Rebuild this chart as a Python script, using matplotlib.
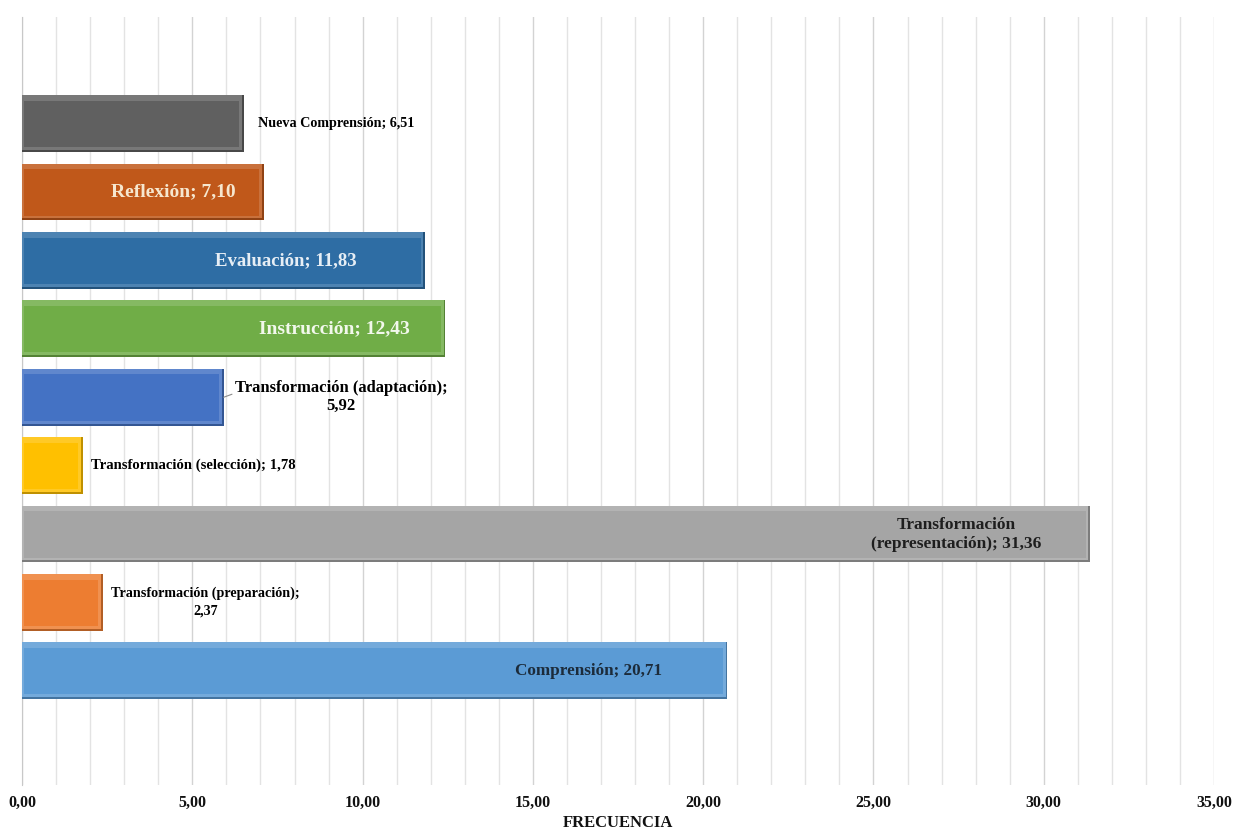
import matplotlib.pyplot as plt
import matplotlib.colors as mcolors
import numpy as np
from matplotlib.ticker import MultipleLocator, FuncFormatter

plt.rcParams['font.family'] = ['Liberation Serif', 'DejaVu Serif']
plt.rcParams['font.weight'] = 'bold'

# bottom to top
categorias = ["Comprensión", "Transformación (preparación)", "Transformación (representación)",
              "Transformación (selección)", "Transformación (adaptación)", "Instrucción",
              "Evaluación", "Reflexión", "Nueva Comprensión"]
frecuencia = [20.71, 2.37, 31.36, 1.78, 5.92, 12.43, 11.83, 7.10, 6.51]
etiquetas = ["Comprensión; 20,71", "Transformación (preparación);\n2,37",
             "Transformación\n(representación); 31,36", "Transformación (selección); 1,78",
             "Transformación (adaptación);\n5,92", "Instrucción; 12,43", "Evaluación; 11,83",
             "Reflexión; 7,10", "Nueva Comprensión; 6,51"]
colores = ["#5B9BD5", "#ED7D31", "#A5A5A5", "#FFC000", "#4472C4", "#70AD47",
           "#2E6DA4", "#C0581A", "#606060"]
# label placement: 'in' = inside near the end, 'out' = right of the bar
modo = ["in", "out", "in", "out", "out", "in", "in", "in", "out"]
pad_pt = [47, 6, 35, 6, 8, 26, 49, 20, 10]
tam = [12.3, 10.2, 12.5, 10.6, 12, 14, 13.5, 14, 10.2]
interlineado = [1.2, 1.45, 1.25, 1.2, 1.15, 1.2, 1.2, 1.2, 1.2]
color_txt = ["#1C2B3A", "black", "#1E1E1E", "black", "black", "#F2F8EC",
             "#E6EEF5", "#F6E7CF", "black"]


def shade(c, f):
    r, g, b = mcolors.to_rgb(c)
    if f < 1:
        return (r * f, g * f, b * f)
    return (r + (1 - r) * (f - 1), g + (1 - g) * (f - 1), b + (1 - b) * (f - 1))


fig = plt.figure(figsize=(12.53, 8.38), dpi=100)
ax = fig.add_axes([0.0176, 0.0632, 0.9513, 0.9165])

y = np.arange(len(categorias))
h = 0.83
frec = np.array(frecuencia)
# bevelled bars: dark frame, soft top rim, face
ax.barh(y, frec, height=h, color=[shade(c, 0.75) for c in colores], zorder=3)
ax.barh(y + 0.015, frec - 0.05, height=h - 0.03,
        color=[shade(c, 1.15) for c in colores], zorder=3)
ax.barh(y - 0.005, frec - 0.2, left=0.07, height=h - 0.15,
        color=colores, zorder=4)

for i, (v, t) in enumerate(zip(frecuencia, etiquetas)):
    kw = dict(textcoords="offset points", va="center", multialignment="center",
              fontsize=tam[i], color=color_txt[i], linespacing=interlineado[i],
              fontweight="bold", zorder=5)
    if modo[i] == "in":
        ax.annotate(t, (v, y[i]), xytext=(-pad_pt[i], 0), ha="right", **kw)
    elif i == 4:
        # short leader line to the bar end
        ax.annotate(t, (v, y[i]), xytext=(pad_pt[i], 0), ha="left",
                    arrowprops=dict(arrowstyle="-", color="#8C8C8C", lw=0.8,
                                    shrinkA=0, shrinkB=0, relpos=(0, 0.62)), **kw)
    else:
        ax.annotate(t, (v, y[i]), xytext=(pad_pt[i], 0), ha="left", **kw)

ax.set_xlim(0, 35)
ax.set_ylim(-1.67, len(categorias) - 1 + 1.56)
ax.xaxis.set_major_locator(MultipleLocator(5))
ax.xaxis.set_minor_locator(MultipleLocator(1))
ax.xaxis.set_major_formatter(FuncFormatter(lambda x, p: f"{x:.2f}".replace(".", ",")))
ax.grid(axis="x", which="major", color="#D3D3D3", linewidth=1.0, zorder=0)
ax.grid(axis="x", which="minor", color="#E3E3E3", linewidth=1.0, zorder=0)
ax.tick_params(axis="x", which="both", length=0, labelsize=11.5, pad=7, labelcolor="#111111")
for lab in ax.get_xticklabels():
    lab.set_fontweight("bold")
ax.set_yticks([])
for s in ["top", "right", "bottom"]:
    ax.spines[s].set_visible(False)
ax.spines["left"].set_color("#C8C8C8")
ax.set_xlabel("FRECUENCIA", fontsize=12, fontweight="bold", labelpad=3, color="#111111")

fig.savefig("out.png", dpi=100)
